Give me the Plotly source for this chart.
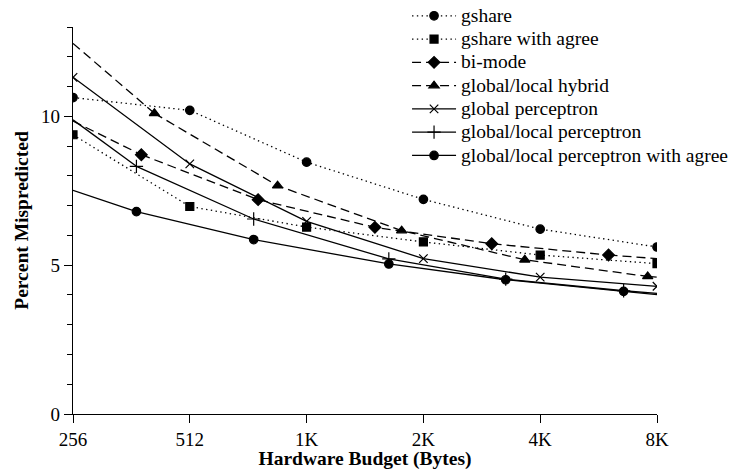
import math
import plotly.graph_objects as go

# Hardware budgets (bytes) and misprediction rates (%) per predictor
pow2_sizes = [256, 512, 1024, 2048, 4096, 8192]
gshare = [10.63, 10.20, 8.46, 7.21, 6.21, 5.61]
gshare_agree = [9.38, 6.97, 6.28, 5.78, 5.34, 5.05]
global_perceptron = [11.31, 8.40, 6.47, 5.22, 4.60, 4.29]

# first and last entries sit on the axis limits and carry no marker
bimode_sizes = [256, 384, 768, 1536, 3072, 6144, 8192]
bimode = [9.84, 8.71, 7.20, 6.27, 5.72, 5.34, 5.22]

hybrid_sizes = [256, 415, 862, 1800, 3738, 7752, 8192]
hybrid = [12.45, 10.10, 7.67, 6.16, 5.18, 4.62, 4.60]

perceptron_sizes = [256, 373, 748, 1668, 3338, 6720, 8192]
gl_perceptron = [9.88, 8.32, 6.55, 5.21, 4.53, 4.14, 4.05]
gl_perceptron_agree = [7.51, 6.80, 5.86, 5.04, 4.51, 4.12, 4.01]

x_ticks = [256, 512, 1024, 2048, 4096, 8192]
x_tick_labels = ["256", "512", "1K", "2K", "4K", "8K"]
y_ticks = [0, 5, 10]

FONT = "Liberation Serif"
LW = 1.3
DOT = "1.4px,3.4px"
DASH = "9px,5px"

series = [
    # name, sizes, values, dash, symbol, markers on the end points
    ("gshare", pow2_sizes, gshare, DOT, "circle", True),
    ("gshare with agree", pow2_sizes, gshare_agree, DOT, "square", True),
    ("bi-mode", bimode_sizes, bimode, DASH, "diamond", False),
    ("global/local hybrid", hybrid_sizes, hybrid, DASH, "triangle-up", False),
    ("global perceptron", pow2_sizes, global_perceptron, "solid", "x-thin", True),
    ("global/local perceptron", perceptron_sizes, gl_perceptron, "solid", "cross-thin", False),
    ("global/local perceptron with agree", perceptron_sizes, gl_perceptron_agree, "solid", "circle", False),
]

marker_size = {"circle": 8.5, "square": 8, "diamond": 9, "triangle-up": 9,
               "x-thin": 8.5, "cross-thin": 9.5}

fig = go.Figure()
for name, xs, ys, dash, symbol, marked_ends in series:
    if marked_ends:
        mx, my = xs, ys
    else:
        mx, my = xs[1:-1], ys[1:-1]
        # unmarked stretches out to the axis limits
        fig.add_trace(go.Scatter(
            x=xs[:2] + [None] + xs[-2:], y=ys[:2] + [None] + ys[-2:],
            mode="lines", line=dict(color="black", width=LW, dash=dash),
            showlegend=False, hoverinfo="skip"))
    fig.add_trace(go.Scatter(
        x=mx, y=my, mode="lines+markers",
        name='<span style="font-size:19.5px">%s</span>' % name,
        line=dict(color="black", width=LW, dash=dash),
        marker=dict(symbol=symbol, size=marker_size[symbol], color="black",
                    line=dict(color="black", width=1.2)),
        cliponaxis=True))

fig.update_layout(
    width=733, height=470,
    margin=dict(l=73, r=76, t=27, b=55.5, autoexpand=False),
    paper_bgcolor="white", plot_bgcolor="white",
    font=dict(family=FONT, size=19, color="black"),
    showlegend=True,
    legend=dict(x=0.572, y=1.072, xanchor="left", yanchor="top",
                bgcolor="rgba(0,0,0,0)", font=dict(family=FONT, size=15.6), itemwidth=44),
    xaxis=dict(type="log", range=[math.log10(256), math.log10(8192)],
               tickvals=x_ticks, ticktext=x_tick_labels,
               showline=True, linecolor="black", linewidth=LW,
               ticks="outside", ticklen=8, tickwidth=LW, tickcolor="black",
               showgrid=False, zeroline=False,
               title=dict(text="<b>Hardware Budget (Bytes)</b>", standoff=0,
                          font=dict(family=FONT, size=19.5))),
    yaxis=dict(range=[0, 13], tickvals=y_ticks,
               showline=True, linecolor="black", linewidth=LW,
               ticks="outside", ticklen=8, tickwidth=LW, tickcolor="black",
               minor=dict(dtick=1, ticks="outside", ticklen=5, tickwidth=LW,
                          tickcolor="black", showgrid=False),
               showgrid=False, zeroline=False,
               title=dict(text="<b>Percent Mispredicted</b>", standoff=7,
                          font=dict(family=FONT, size=19.5))),
)

fig.write_html("out.html")
